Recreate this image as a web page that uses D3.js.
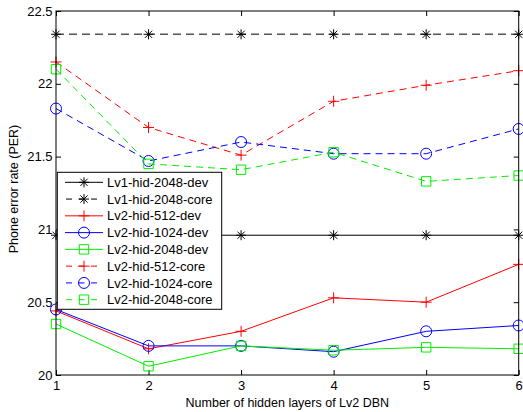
<!DOCTYPE html>
<html><head><meta charset="utf-8">
<script src="https://cdn.jsdelivr.net/npm/d3@7"></script>
<style>
html,body{margin:0;padding:0;background:#fff;}
text{font-family:"Liberation Sans",Arial,Helvetica,sans-serif;fill:#000;}
</style></head>
<body>
<svg id="chart" width="523" height="412"></svg>
<script>
const layers = [1, 2, 3, 4, 5, 6];
const xTicks = [1, 2, 3, 4, 5, 6];
const yTicks = [20, 20.5, 21, 21.5, 22, 22.5];
const seriesNames = ["Lv1-hid-2048-dev","Lv1-hid-2048-core","Lv2-hid-512-dev","Lv2-hid-1024-dev","Lv2-hid-2048-dev","Lv2-hid-512-core","Lv2-hid-1024-core","Lv2-hid-2048-core"];
const lv1Dev      = [20.96, 20.96, 20.96, 20.96, 20.96, 20.96];
const lv1Core     = [22.34, 22.34, 22.34, 22.34, 22.34, 22.34];
const lv2Dev512   = [20.44, 20.18, 20.30, 20.53, 20.50, 20.76];
const lv2Dev1024  = [20.45, 20.20, 20.20, 20.16, 20.30, 20.34];
const lv2Dev2048  = [20.35, 20.06, 20.20, 20.17, 20.19, 20.18];
const lv2Core512  = [22.15, 21.70, 21.51, 21.88, 21.99, 22.09];
const lv2Core1024 = [21.83, 21.47, 21.60, 21.52, 21.52, 21.69];
const lv2Core2048 = [22.10, 21.45, 21.41, 21.53, 21.33, 21.37];
const xLabel = "Number of hidden layers of Lv2 DBN";
const yLabel = "Phone error rate (PER)";

const styles = [
  {color:"#000", dash:null, marker:"star"},
  {color:"#000", dash:"8,5", marker:"star"},
  {color:"#ff0000", dash:null, marker:"plus"},
  {color:"#0000ff", dash:null, marker:"circle"},
  {color:"#00ee00", dash:null, marker:"square"},
  {color:"#ff0000", dash:"7,5", marker:"plus"},
  {color:"#0000ff", dash:"7,5", marker:"circle"},
  {color:"#00ee00", dash:"7,5", marker:"square"}
];
const allValues = [lv1Dev, lv1Core, lv2Dev512, lv2Dev1024, lv2Dev2048, lv2Core512, lv2Core1024, lv2Core2048];

const L = 56, R = 518.7, T = 11, B = 375;
const svg = d3.select("#chart");
const x = d3.scaleLinear().domain([1, 6]).range([L, R]);
const y = d3.scaleLinear().domain([20, 22.5]).range([B, T]);

// axes
const gx = svg.append("g").attr("transform", `translate(0,${B})`)
  .call(d3.axisBottom(x).tickValues(xTicks).tickFormat(d3.format("d")).tickSizeInner(-5).tickSizeOuter(0).tickPadding(6));
const gy = svg.append("g").attr("transform", `translate(${L},0)`)
  .call(d3.axisLeft(y).tickValues(yTicks).tickFormat(d => String(d)).tickSizeInner(-5).tickSizeOuter(0).tickPadding(3.5));
const gxt = svg.append("g").attr("transform", `translate(0,${T})`)
  .call(d3.axisTop(x).tickValues(xTicks).tickFormat("").tickSizeInner(-5).tickSizeOuter(0));
const gyr = svg.append("g").attr("transform", `translate(${R},0)`)
  .call(d3.axisRight(y).tickValues(yTicks).tickFormat("").tickSizeInner(-5).tickSizeOuter(0));
[gx, gy, gxt, gyr].forEach(g => {
  g.select(".domain").remove();
  g.selectAll(".tick line").attr("stroke", "#000");
  g.selectAll("text").style("font-size", "13px").attr("font-family", null);
});

function markerPath(type, cx, cy) {
  const p = d3.path();
  if (type === "star") {
    const r = 5, d = 3.6;
    p.moveTo(cx - r, cy); p.lineTo(cx + r, cy);
    p.moveTo(cx, cy - r); p.lineTo(cx, cy + r);
    p.moveTo(cx - d, cy - d); p.lineTo(cx + d, cy + d);
    p.moveTo(cx - d, cy + d); p.lineTo(cx + d, cy - d);
  } else if (type === "plus") {
    const r = 5.5;
    p.moveTo(cx - r, cy); p.lineTo(cx + r, cy);
    p.moveTo(cx, cy - r); p.lineTo(cx, cy + r);
  } else if (type === "circle") {
    p.moveTo(cx + 5.5, cy); p.arc(cx, cy, 5.5, 0, 2 * Math.PI);
  } else if (type === "square") {
    p.rect(cx - 4.7, cy - 4.7, 9.4, 9.4);
  }
  return p.toString();
}

const line = d3.line().x((d, i) => x(layers[i])).y(d => y(d));
const plot = svg.append("g");
allValues.forEach((vals, k) => {
  const s = styles[k];
  const g = plot.append("g");
  g.append("path").attr("d", line(vals)).attr("fill", "none")
    .attr("stroke", k === 1 ? "#555" : s.color)
    .attr("stroke-width", k === 1 ? 1.6 : 1)
    .attr("stroke-dasharray", s.dash);
  g.selectAll("path.m").data(vals).join("path").attr("class", "m")
    .attr("d", (d, i) => markerPath(s.marker, x(layers[i]), y(d)))
    .attr("fill", "none").attr("stroke", s.color).attr("stroke-width", 1);
});

// box
svg.append("rect").attr("x", L).attr("y", T).attr("width", R - L).attr("height", B - T)
  .attr("fill", "none").attr("stroke", "#000").attr("stroke-width", 1);

// axis labels
svg.append("text").attr("x", (L + R) / 2).attr("y", 406.5).attr("text-anchor", "middle")
  .style("font-size", "12.5px").text(xLabel);
svg.append("text").attr("transform", `translate(18,${(T + B) / 2 - 4}) rotate(-90)`)
  .attr("text-anchor", "middle").style("font-size", "12.5px").text(yLabel);

// legend
const lg = svg.append("g");
lg.append("rect").attr("x", 57.3).attr("y", 172.3).attr("width", 164.4).attr("height", 137)
  .attr("fill", "#fff").attr("stroke", "#000").attr("stroke-width", 1);
seriesNames.forEach((name, k) => {
  const s = styles[k];
  const cy = 182.3 + k * 16.77;
  lg.append("line").attr("x1", 65).attr("x2", 103).attr("y1", cy).attr("y2", cy)
    .attr("stroke", s.color).attr("stroke-width", 1).attr("stroke-dasharray", s.dash ? "6,6.5" : null)
    .attr("stroke-dashoffset", s.dash ? -1 : null);
  lg.append("path").attr("d", markerPath(s.marker, 84, cy)).attr("fill", "none")
    .attr("stroke", s.color).attr("stroke-width", 1);
  lg.append("text").attr("x", 107).attr("y", cy + 4.6).style("font-size", "13px").text(name);
});
</script>
</body></html>
